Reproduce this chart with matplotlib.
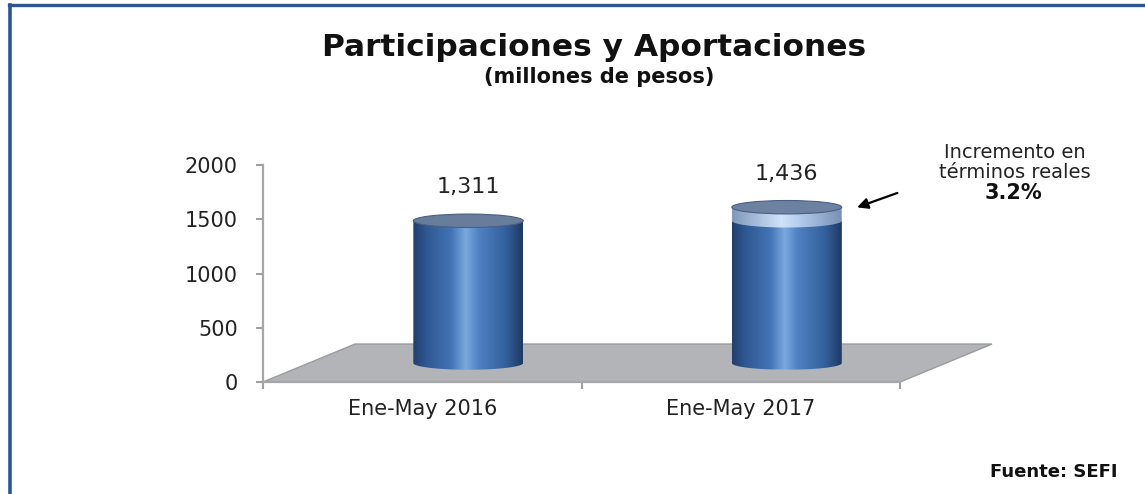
import numpy as np
import matplotlib
matplotlib.use("Agg")
import matplotlib.pyplot as plt
from matplotlib.patches import Polygon, Ellipse
from matplotlib.colors import LinearSegmentedColormap
from matplotlib.lines import Line2D

# datos del grafico
periodos = ["Ene-May 2016", "Ene-May 2017"]
montos = [1311, 1436]
etiquetas = ["1,311", "1,436"]
yticks = [0, 500, 1000, 1500, 2000]
incremento = "3.2%"

W, H = 1145, 494
fig = plt.figure(figsize=(W / 100, H / 100), dpi=100)
ax = fig.add_axes([263 / W, 1 - 382 / H, 637 / W, 217 / H])

# profundidad del "piso" 3D en unidades de datos
prof_x, prof_y = 0.289, 350
radio_x, radio_y = 0.1725, 62

cmap_oscuro = LinearSegmentedColormap.from_list(
    "oscuro", [(0, "#223f6b"), (0.12, "#2f5792"), (0.35, "#4474b6"),
               (0.48, "#7aa9df"), (0.6, "#4f80c1"), (0.85, "#33609c"), (1, "#1f3963")])
cmap_claro = LinearSegmentedColormap.from_list(
    "claro", [(0, "#7f98bb"), (0.45, "#cfe3fa"), (0.6, "#b6cfee"), (1, "#7890b3")])


def cilindro(ax, cx, y0, y1, cmap, z, arco_sup=False):
    """cuerpo del cilindro con degradado horizontal"""
    t = np.linspace(np.pi, 2 * np.pi, 60)
    abajo = np.column_stack([cx + radio_x * np.cos(t), y0 + radio_y * np.sin(t)])
    pts = [(cx - radio_x, y1)] + list(abajo) + [(cx + radio_x, y1)]
    if arco_sup:
        t2 = np.linspace(2 * np.pi, np.pi, 60)
        pts += list(np.column_stack([cx + radio_x * np.cos(t2), y1 + radio_y * np.sin(t2)]))
    poly = Polygon(pts, closed=True, facecolor="none", edgecolor="none", zorder=z)
    ax.add_patch(poly)
    grad = np.linspace(0, 1, 256).reshape(1, -1)
    im = ax.imshow(grad, extent=[cx - radio_x, cx + radio_x, y0 - radio_y, y1 + radio_y],
                   aspect="auto", cmap=cmap, zorder=z)
    im.set_clip_path(poly)


def tapa(ax, cx, y, color, z):
    ax.add_patch(Ellipse((cx, y), 2 * radio_x, 2 * radio_y, facecolor=color,
                         edgecolor="#4a6084", lw=0.8, zorder=z))


# piso gris
piso = Polygon([(0, 0), (2, 0), (2 + prof_x, prof_y), (prof_x, prof_y)], closed=True,
               facecolor="#b2b4b7", edgecolor="#999b9e", lw=1, zorder=1, clip_on=False)
ax.add_patch(piso)

x = np.arange(len(periodos)) + 0.5
base = prof_y / 2
for i, (xi, v) in enumerate(zip(x, montos)):
    cx = xi + prof_x / 2
    if i == 0:
        cilindro(ax, cx, base, base + v, cmap_oscuro, 3)
        tapa(ax, cx, base + v, "#687c9c", 4)
    else:
        # parte clara = incremento sobre el periodo anterior
        cilindro(ax, cx, base, base + v, cmap_claro, 3)
        cilindro(ax, cx, base, base + montos[0], cmap_oscuro, 3.5, arco_sup=True)
        tapa(ax, cx, base + v, "#6d81a0", 4)
        ax.annotate("", xy=(cx + radio_x + 0.04, base + v - 10),
                    xytext=(cx + radio_x + 0.183, base + v + 140),
                    arrowprops=dict(arrowstyle="-|>", color="black", lw=1.6, mutation_scale=16),
                    annotation_clip=False, zorder=6)
    ax.annotate(etiquetas[i], (cx, base + v), xytext=(0, 24), textcoords="offset points",
                ha="center", va="center", fontsize=16, color="#222222", zorder=6)

ax.set_xlim(0, 2)
ax.set_ylim(0, 2000)
ax.set_yticks(yticks)
ax.set_xticks([0, 1, 2])
ax.set_xticklabels([])
ax.set_xticks(x, minor=True)
ax.set_xticklabels(periodos, minor=True, fontsize=15, color="#222222")
ax.tick_params(axis="x", which="minor", length=0, pad=12)
ax.tick_params(axis="x", which="major", length=5, color="#a0a0a0", width=1.5)
ax.tick_params(axis="y", length=5, color="#a0a0a0", width=1.5, pad=13, labelsize=15,
               labelcolor="#222222")
for s in ["top", "right"]:
    ax.spines[s].set_visible(False)
for s in ["left", "bottom"]:
    ax.spines[s].set_color("#a6a6a6")
    ax.spines[s].set_linewidth(1.6)
    ax.spines[s].set_zorder(2)
ax.patch.set_visible(False)

# textos
fig.text(594 / W, 1 - 48 / H, "Participaciones y Aportaciones", ha="center", va="center",
         fontsize=22.5, fontweight="bold", color="#111111")
fig.text(599 / W, 1 - 77 / H, "(millones de pesos)", ha="center", va="center",
         fontsize=15, fontweight="bold", color="#111111")
fig.text(1015 / W, 1 - 153 / H, "Incremento en", ha="center", va="center",
         fontsize=14, color="#222222")
fig.text(1015 / W, 1 - 172 / H, "términos reales", ha="center", va="center",
         fontsize=14, color="#222222")
fig.text(1013 / W, 1 - 193 / H, incremento, ha="center", va="center",
         fontsize=15, fontweight="bold", color="#111111")
fig.text(1118 / W, 1 - 472 / H, "Fuente: SEFI", ha="right", va="center",
         fontsize=13, fontweight="bold", color="#111111")

# marco azul
fig.add_artist(Line2D([10 / W, 10 / W], [0, 1 - 5 / H], transform=fig.transFigure,
                      color="#2e5490", lw=2.6))
fig.add_artist(Line2D([9 / W, 1], [1 - 5.5 / H, 1 - 5.5 / H], transform=fig.transFigure,
                      color="#2e5490", lw=2.4))

fig.savefig("out.png", dpi=100)
